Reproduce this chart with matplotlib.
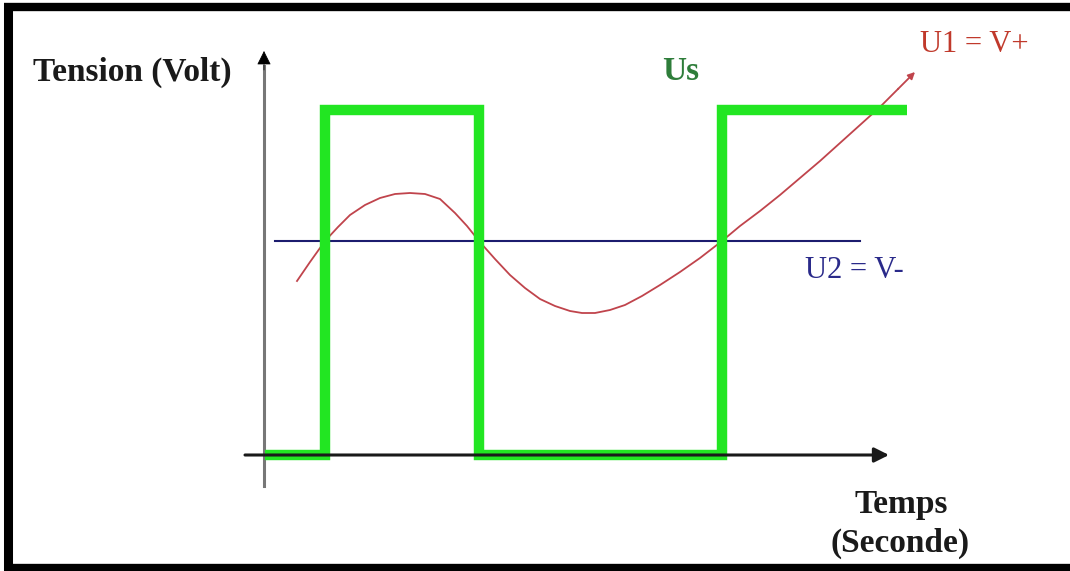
import numpy as np
import matplotlib.pyplot as plt

plt.rcParams['font.family'] = ['Liberation Serif', 'DejaVu Serif']

# donnees (coordonnees, en pixels)
us_t = [265, 325, 325, 479, 479, 722, 722, 907]
us_v = [455, 455, 110, 110, 455, 455, 110, 110]

u1_t = [297, 310, 325, 338, 350, 365, 380, 395, 410, 425, 440, 455, 467, 479,
        495, 510, 525, 540, 555, 570, 582, 595, 610, 625, 642, 660, 680, 700,
        722, 740, 760, 780, 800, 820, 840, 860, 880, 898]
u1_v = [281, 262, 241, 227, 215, 205, 198, 194, 193, 194, 199, 213, 226, 241,
        259, 275, 288, 299, 306, 311, 313, 313, 310, 305, 296, 285, 272, 258,
        241, 226, 211, 195, 178, 161, 143, 125, 107, 89]
u1_tip = (915, 72)

u2_t = [275, 860]
u2_v = [241, 241]

fig = plt.figure(figsize=(10.7, 5.71), dpi=100)
ax = fig.add_axes([0, 0, 1, 1])
ax.set_xlim(0, 1070)
ax.set_ylim(571, 0)
ax.axis("off")

# cadre noir
ax.plot([4, 1070], [7, 7], color="black", lw=6, solid_capstyle="butt")
ax.plot([8, 8], [3, 571], color="black", lw=6.5, solid_capstyle="butt")
ax.plot([4, 1070], [567.5, 567.5], color="black", lw=6, solid_capstyle="butt")

# axes
ax.plot([264, 264], [486, 66], color="#777777", lw=2.2)
ax.annotate("", xy=(264, 51), xytext=(264, 70),
            arrowprops=dict(arrowstyle="-|>", color="black", lw=0.5,
                            mutation_scale=22, shrinkA=0, shrinkB=0))
ax.annotate("", xy=(889, 455), xytext=(245, 455),
            arrowprops=dict(arrowstyle="-|>", color="#1a1a1a", lw=2.2,
                            mutation_scale=22, shrinkA=0, shrinkB=0))

# courbes
ax.plot(u2_t, u2_v, color="#1c1c6e", lw=1.5)
ax.plot(u1_t, u1_v, color="#c0444c", lw=1.3)
ax.annotate("", xy=u1_tip, xytext=(u1_t[-1], u1_v[-1]),
            arrowprops=dict(arrowstyle="-|>", color="#c0444c", lw=1.3,
                            mutation_scale=10, shrinkA=0, shrinkB=0))
ax.plot(us_t, us_v, color="#22e622", lw=7.5, solid_joinstyle="miter",
        solid_capstyle="butt")

# textes
ax.text(33, 72, "Tension (Volt)", fontsize=24, fontweight="bold",
        color="#1a1a1a", ha="left", va="center")
ax.text(662, 72, "Us", fontsize=24, fontweight="bold", color="#2e7d3a",
        ha="left", va="center")
ax.text(920, 45, "U1 = V+", fontsize=22, color="#c0392b", ha="left",
        va="center")
ax.text(805, 271, "U2 = V-", fontsize=22, color="#2a2a8a", ha="left",
        va="center")
ax.text(901, 505, "Temps", fontsize=24, fontweight="bold", color="#1a1a1a",
        ha="center", va="center")
ax.text(900, 543, "(Seconde)", fontsize=24, fontweight="bold",
        color="#1a1a1a", ha="center", va="center")

plt.savefig("out.png", dpi=100)
